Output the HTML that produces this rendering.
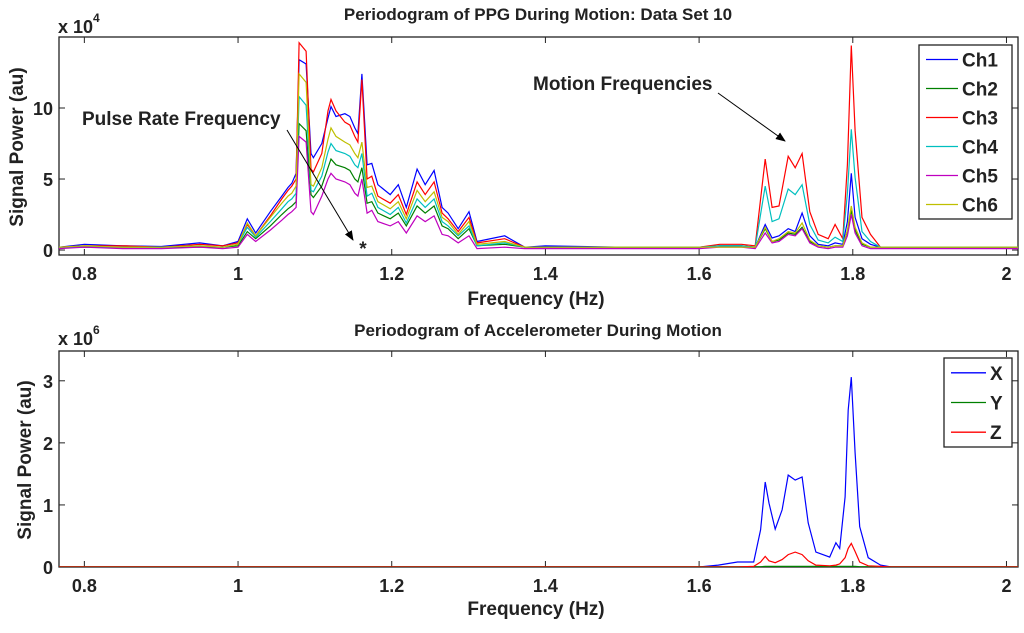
<!DOCTYPE html>
<html><head><meta charset="utf-8"><style>
html,body{margin:0;padding:0;background:#fff;}
svg{display:block;font-family:"Liberation Sans",Arial,sans-serif;}
.t{font-size:19px;font-weight:bold;fill:#222;}
.tt{font-size:17px;font-weight:bold;fill:#222;}
.tk{font-size:18px;font-weight:bold;fill:#222;}
</style></head><body>
<svg id="fig" width="1024" height="633" viewBox="0 0 1024 633">
<defs>
<clipPath id="c1"><rect x="59" y="37" width="959" height="218"/></clipPath>
<clipPath id="c2"><rect x="59" y="351" width="959" height="216"/></clipPath>
<marker id="ah" markerWidth="10" markerHeight="10" refX="9" refY="5" orient="auto" markerUnits="userSpaceOnUse"><path d="M0,1 L10,5 L0,9 Z" fill="#000"/></marker>
</defs>
</svg>
<script>
// Top plot data (x 1e4)
const freqTop=[0.767,0.80,0.85,0.90,0.95,0.98,1.0,1.012,1.023,1.042,1.057,1.065,1.070,1.0755,1.0794,1.0885,1.095,1.098,1.109,1.117,1.121,1.1275,1.139,1.1456,1.152,1.156,1.1612,1.168,1.174,1.182,1.198,1.2085,1.219,1.233,1.2435,1.2552,1.2656,1.2734,1.2865,1.3006,1.311,1.347,1.373,1.40,1.50,1.60,1.627,1.655,1.673,1.686,1.695,1.704,1.716,1.725,1.734,1.744,1.755,1.768,1.777,1.787,1.793,1.798,1.803,1.812,1.823,1.836,1.90,2.02];
const ch1=[0.2,0.4,0.3,0.25,0.5,0.3,0.6,2.2,1.2,2.7,3.8,4.4,4.7,5.4,13.4,13.1,6.8,6.5,7.5,9.3,10.1,9.4,9.6,9.4,8.6,8.2,12.4,6.0,6.1,4.6,3.9,4.6,3.0,5.7,4.6,5.6,3.0,2.6,1.5,2.7,0.6,1.0,0.2,0.3,0.2,0.2,0.3,0.3,0.2,1.8,0.85,1.0,1.5,1.3,2.6,1.0,0.4,0.3,0.5,0.4,2.0,5.4,2.3,0.8,0.4,0.2,0.2,0.2];
const ch2=[0.2,0.2,0.2,0.2,0.2,0.2,0.3,1.3,0.8,1.7,2.5,2.9,3.1,3.4,8.9,8.4,3.9,3.7,4.5,5.8,6.4,6.0,5.8,5.6,5.0,4.8,5.8,3.3,3.4,2.6,2.2,2.6,1.7,3.1,2.6,3.1,1.7,1.5,0.8,1.5,0.3,0.4,0.2,0.2,0.2,0.2,0.3,0.3,0.2,1.5,0.6,0.7,1.2,1.1,1.6,0.6,0.3,0.2,0.3,0.3,1.3,2.8,1.4,0.4,0.2,0.2,0.2,0.2];
const ch3=[0.2,0.3,0.3,0.2,0.4,0.3,0.5,1.8,1.0,2.4,3.6,4.2,4.5,5.0,14.6,14.0,5.7,5.5,6.8,9.8,10.6,9.8,9.0,8.8,8.0,7.6,12.0,5.0,5.2,3.8,3.3,3.9,2.5,4.8,3.9,4.8,2.6,2.2,1.3,2.3,0.5,0.8,0.2,0.2,0.2,0.2,0.4,0.4,0.3,6.4,3.0,3.1,6.6,5.8,6.8,2.7,1.1,0.8,1.8,0.8,6.0,14.4,8.4,2.3,1.1,0.2,0.2,0.2];
const ch4=[0.2,0.2,0.2,0.2,0.3,0.2,0.4,1.6,0.9,2.0,2.9,3.4,3.6,4.0,10.8,10.2,4.2,4.1,5.2,6.9,7.5,7.0,6.8,6.6,6.0,5.8,6.8,3.8,4.0,3.0,2.5,3.0,1.9,3.6,3.0,3.6,2.0,1.7,1.0,1.7,0.3,0.5,0.2,0.2,0.2,0.2,0.3,0.3,0.2,4.5,2.0,2.2,4.3,3.9,4.6,1.8,0.7,0.5,0.9,0.6,4.0,8.5,5.1,1.3,0.6,0.2,0.2,0.2];
const ch5=[0.1,0.2,0.1,0.1,0.2,0.1,0.2,1.1,0.6,1.4,2.1,2.5,2.7,3.0,8.0,7.6,2.7,2.5,3.8,5.0,5.4,5.0,4.8,4.6,4.0,3.8,5.0,2.6,2.8,2.0,1.7,2.0,1.2,2.4,2.0,2.4,1.1,1.0,0.5,1.0,0.1,0.2,0.1,0.1,0.1,0.1,0.2,0.2,0.1,1.2,0.5,0.6,1.1,1.0,1.5,0.5,0.2,0.1,0.2,0.2,1.0,2.5,1.2,0.3,0.1,0.1,0.1,0.1];
const ch6=[0.2,0.3,0.2,0.2,0.3,0.2,0.4,1.9,1.0,2.3,3.3,3.8,4.0,4.5,12.4,11.8,4.6,4.5,5.8,7.8,8.6,8.0,7.6,7.4,6.8,6.5,7.6,4.4,4.5,3.4,2.9,3.4,2.2,4.2,3.4,4.1,2.3,2.0,1.1,2.0,0.4,0.6,0.2,0.2,0.2,0.2,0.2,0.2,0.2,1.6,0.6,0.8,1.3,1.2,1.9,0.7,0.3,0.2,0.3,0.3,1.4,3.1,1.6,0.5,0.2,0.2,0.2,0.2];
// Bottom plot data (x 1e6)
const freqBot=[0.767,1.60,1.625,1.65,1.671,1.68,1.686,1.691,1.699,1.708,1.716,1.725,1.734,1.742,1.752,1.770,1.778,1.783,1.790,1.794,1.798,1.803,1.809,1.82,1.836,1.85,2.02];
const accX=[0,0,0.03,0.08,0.08,0.6,1.37,1.03,0.61,0.92,1.48,1.4,1.45,0.71,0.24,0.16,0.39,0.3,1.13,2.53,3.06,1.84,0.65,0.15,0.03,0,0];
const accY=[0.005,0.005,0.005,0.005,0.005,0.005,0.01,0.01,0.01,0.01,0.01,0.01,0.01,0.01,0.01,0.01,0.01,0.01,0.01,0.01,0.01,0.01,0.005,0.005,0.005,0.005,0.005];
const accZ=[0,0,0,0,0.01,0.08,0.17,0.1,0.07,0.12,0.2,0.24,0.2,0.1,0.03,0.02,0.03,0.05,0.15,0.3,0.38,0.25,0.08,0.02,0.01,0,0];
const xTicks=[0.8,1,1.2,1.4,1.6,1.8,2];
const xTickLabels=["0.8","1","1.2","1.4","1.6","1.8","2"];
const yTicksTop=[0,5,10];
const yTicksBot=[0,1,2,3];
const topLegend=["Ch1","Ch2","Ch3","Ch4","Ch5","Ch6"];
const botLegend=["X","Y","Z"];

const NS="http://www.w3.org/2000/svg";
const svg=document.getElementById('fig');
function mk(tag,attrs,parent){const e=document.createElementNS(NS,tag);for(const k in attrs)e.setAttribute(k,attrs[k]);(parent||svg).appendChild(e);return e;}
const X0=59,X1=1018,FMIN=0.767,FMAX=2.015;
function xs(f){return X0+(f-FMIN)/(FMAX-FMIN)*(X1-X0);}
const axTop={y0:37,y1:255,vmin:-0.35,vmax:15};
const axBot={y0:351,y1:567,vmin:0,vmax:3.48};
function ys(ax,v){return ax.y1-(v-ax.vmin)/(ax.vmax-ax.vmin)*(ax.y1-ax.y0);}

function axes(ax,yt,name){
  const g=mk('g',{});
  
  
  mk('rect',{x:X0,y:ax.y0,width:X1-X0,height:ax.y1-ax.y0,fill:'#fff',stroke:'#222','stroke-width':1.3},g);
  xTicks.forEach((t,i)=>{const x=xs(t);
    mk('line',{x1:x,x2:x,y1:ax.y1,y2:ax.y1-6,stroke:'#222'},g);
    mk('line',{x1:x,x2:x,y1:ax.y0,y2:ax.y0+6,stroke:'#222'},g);
    const tx=mk('text',{x:x,y:ax.y1+25,'text-anchor':'middle',class:'tk'},g);tx.textContent=xTickLabels[i];
    
    
  });
  yt.forEach(t=>{const y=ys(ax,t);
    mk('line',{x1:X0,x2:X0+6,y1:y,y2:y,stroke:'#222'},g);
    mk('line',{x1:X1,x2:X1-6,y1:y,y2:y,stroke:'#222'},g);
    const tx=mk('text',{x:X0-6,y:y+7,'text-anchor':'end',class:'tk'},g);tx.textContent=String(t);
    
    
  });
  return g;
}
function series(ax,fr,vals,color,clip,name){
  const d=fr.map((f,i)=>(i?'L':'M')+xs(f).toFixed(1)+','+ys(ax,vals[i]).toFixed(1)).join(' ');
  const p=mk('path',{d:d,fill:'none',stroke:color,'stroke-width':1.2,'clip-path':'url(#'+clip+')'});
  
  
}
function text(x,y,s,name,extra){const t=mk('text',Object.assign({x:x,y:y,class:'t'},extra||{}));t.textContent=s;
  
  
  return t;}

axes(axTop,yTicksTop,'top-axes');
const colors=['#0000ff','#008000','#ff0000','#00bfbf','#bf00bf','#bfbf00'];
[ch1,ch2,ch3,ch4,ch5,ch6].forEach((v,i)=>series(axTop,freqTop,v,colors[i],'c1','series-'+topLegend[i].toLowerCase()));
axes(axBot,yTicksBot,'bottom-axes');
const bcol=['#0000ff','#008000','#ff0000'];
[accX,accY,accZ].forEach((v,i)=>series(axBot,freqBot,v,bcol[i],'c2','series-'+botLegend[i].toLowerCase()));

text(538,20,'Periodogram of PPG During Motion: Data Set 10','top-title',{'text-anchor':'middle',class:'tt'});
text(536,305,'Frequency (Hz)','top-x-axis-title',{'text-anchor':'middle'});
text(538,336,'Periodogram of Accelerometer During Motion','bottom-title',{'text-anchor':'middle',class:'tt'});
text(536,615,'Frequency (Hz)','bottom-x-axis-title',{'text-anchor':'middle'});
text(0,0,'Signal Power (au)','top-y-axis-title',{'text-anchor':'middle',transform:'translate(23,147) rotate(-90)'});
text(0,0,'Signal Power (au)','bottom-y-axis-title',{'text-anchor':'middle',transform:'translate(31,460) rotate(-90)'});
const e1=text(58,33,'x 10','top-exponent',{class:'tk'});const s1=mk('tspan',{dy:-11,'font-size':'12px'},e1);s1.textContent='4';
const e2=text(58,345,'x 10','bottom-exponent',{class:'tk'});const s2=mk('tspan',{dy:-11,'font-size':'12px'},e2);s2.textContent='6';

text(82,125,'Pulse Rate Frequency','pulse-rate-annotation');
const a1=mk('line',{x1:287,y1:130,x2:353,y2:240,stroke:'#000','stroke-width':1,'marker-end':'url(#ah)'});


text(363,255,'*','pulse-marker',{'text-anchor':'middle','font-size':'14px'});
text(533,90,'Motion Frequencies','motion-annotation');
const a2=mk('line',{x1:718,y1:93,x2:785,y2:141,stroke:'#000','stroke-width':1,'marker-end':'url(#ah)'});



function legend(x,y,w,h,labels,cols,name,tx){
  const g=mk('g',{});
  
  
  mk('rect',{x:x,y:y,width:w,height:h,fill:'#fff',stroke:'#222','stroke-width':1.3},g);
  const step=h/labels.length;
  labels.forEach((l,i)=>{const cy=y+step*(i+0.5);
    mk('line',{x1:x+7,x2:x+tx-4,y1:cy,y2:cy,stroke:cols[i],'stroke-width':1.3},g);
    const t=mk('text',{x:x+tx,y:cy+7,class:'t'},g);t.textContent=l;
    
    
  });
}
legend(919,45,93,174,topLegend,colors,'top-legend',43);
legend(944,358,68,89,botLegend,bcol,'bottom-legend',46);
</script>
</body></html>
